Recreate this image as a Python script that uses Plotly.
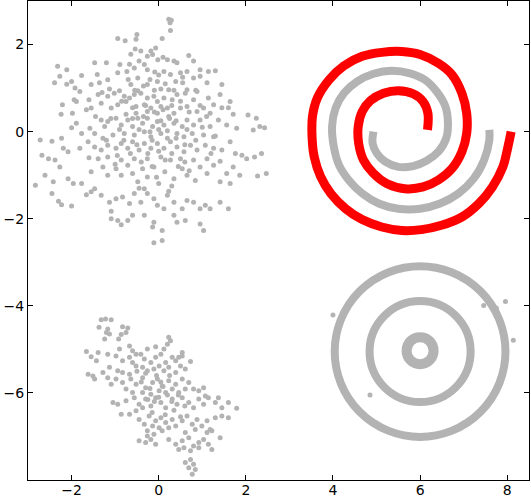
import plotly.graph_objects as go

# points (top-left gaussian blob)
blob_top = [
    (0.23, 2.58), (0.29, 2.56), (0.26, 2.5), (0.27, 2.32), (0.08, 2.14), (-0.5, 2.23), (-0.94, 2.14),
    (-0.77, 2.09), (-0.52, 2.12),
    (-0.54, 1.9), (-0.41, 1.85), (-0.64, 1.78), (-0.18, 1.85), (-0.07, 1.92), (-0.26, 1.73), (-0.14, 1.77),
    (0.1, 1.71), (0.2, 1.65), (0.35, 1.62), (0.42, 1.58), (0.69, 1.75), (0.8, 1.62), (-0.67, 1.55),
    (-0.89, 1.54), (-1.47, 1.58), (-1.2, 1.58), (-2.32, 1.5), (-2.11, 1.42), (-0.45, 1.62), (-0.33, 1.54),
    (-0.02, 1.65),
    (-2.27, 1.27), (-2.39, 1.12), (-2.11, 1.09), (-2.0, 1.15), (-1.77, 1.29), (-1.41, 1.31), (-1.17, 1.19),
    (-0.94, 1.35), (-0.73, 1.38), (-0.56, 1.46), (-0.48, 1.23), (-0.26, 1.42), (-0.09, 1.37), (0.12, 1.38),
    (0.27, 1.31), (0.5, 1.35), (0.65, 1.38), (0.95, 1.42), (1.14, 1.38), (1.3, 1.4), (0.8, 1.23),
    (0.95, 1.27), (1.11, 1.12), (1.45, 1.08), (0.39, 1.15), (0.55, 1.12), (-0.03, 1.15), (-0.26, 1.08),
    (-0.64, 1.08), (-1.36, 1.12), (-1.55, 1.08), (-1.92, 1.0), (-1.81, 0.92), (-1.13, 0.98), (-0.9, 0.94),
    (0.05, 0.98), (0.23, 0.96), (0.65, 0.96), (0.88, 0.92), (-0.48, 0.94),
    (-1.94, 0.73), (-1.89, 0.69), (-2.21, 0.62), (-1.6, 0.73), (-1.39, 0.85), (-1.17, 0.81), (-1.02, 0.88),
    (-0.79, 0.81), (-0.67, 0.77), (-0.56, 0.85), (-0.41, 0.88), (-0.26, 0.77), (-0.11, 0.81), (-0.03, 0.69),
    (0.12, 0.77), (0.31, 0.73), (0.42, 0.85), (0.61, 0.88), (0.8, 0.73), (1.14, 0.77), (1.41, 0.85),
    (1.64, 0.69), (1.6, 0.55), (1.26, 0.62), (1.03, 0.54), (0.65, 0.58), (0.5, 0.54), (0.2, 0.54),
    (0.05, 0.58), (-0.18, 0.54), (-0.33, 0.62), (-0.52, 0.58), (-0.75, 0.69), (-0.94, 0.62), (-1.09, 0.54),
    (-1.32, 0.65), (-1.55, 0.54), (-1.66, 0.5), (-1.98, 0.42), (-2.24, 0.4), (-0.52, 0.42), (-0.26, 0.46),
    (-0.03, 0.42), (0.35, 0.42), (0.88, 0.46), (1.18, 0.42), (1.71, 0.4), (2.05, 0.38), (2.24, 0.31),
    (-2.0, 0.09), (-1.89, 0.19), (-1.77, -0.04), (-1.58, 0.08), (-1.47, -0.04), (-1.32, 0.27), (-1.17, 0.23),
    (-1.24, 0.12), (-0.98, 0.31), (-0.86, 0.15), (-0.71, 0.27), (-0.6, 0.12), (-0.48, 0.31), (-0.37, 0.19),
    (-0.26, 0.31), (-0.14, 0.12), (-0.03, 0.23), (0.12, 0.15), (0.23, 0.35), (0.35, 0.19), (0.54, 0.12),
    (0.65, 0.27), (0.8, 0.15), (0.95, 0.27), (1.18, 0.12), (1.37, 0.27), (1.56, 0.15), (1.79, 0.08),
    (2.17, 0.04), (2.32, 0.12), (2.43, 0.09), (-0.79, -0.04), (-0.56, -0.08), (-0.33, 0.0), (-0.18, -0.12),
    (0.05, -0.04), (0.2, -0.15), (0.42, -0.04), (0.58, -0.12), (0.77, -0.04), (1.03, -0.08), (1.26, -0.12),
    (-1.05, -0.08), (-1.28, -0.15), (-2.72, -0.19), (-2.45, -0.22), (-2.23, -0.15),
    (-2.68, -0.54), (-2.53, -0.62), (-2.38, -0.65), (-2.19, -0.38), (-2.08, -0.46), (-1.81, -0.38),
    (-1.62, -0.23), (-1.47, -0.35), (-1.32, -0.42), (-1.17, -0.31), (-0.98, -0.38), (-0.86, -0.27),
    (-0.71, -0.38), (-0.6, -0.23), (-0.45, -0.42), (-0.33, -0.27), (-0.18, -0.38), (-0.03, -0.27),
    (0.12, -0.38), (0.27, -0.23), (0.42, -0.35), (0.58, -0.46), (0.73, -0.31), (0.88, -0.42), (1.07, -0.31),
    (1.26, -0.38), (1.45, -0.42), (1.64, -0.23), (1.76, -0.5), (1.91, -0.54), (2.02, -0.62), (2.2, -0.58),
    (2.36, -0.5), (-1.39, -0.62), (-1.17, -0.58), (-0.86, -0.65), (-0.56, -0.62), (-0.26, -0.62),
    (0.05, -0.58), (0.27, -0.65), (0.5, -0.62), (0.8, -0.65), (1.11, -0.62), (1.41, -0.68),
    (-2.83, -1.23), (-2.61, -1.0), (-2.42, -1.15), (-2.27, -0.81), (-2.08, -1.08), (-1.96, -1.19),
    (-1.77, -1.19), (-1.55, -0.92), (-1.47, -1.31), (-1.28, -0.81), (-1.17, -1.0), (-0.98, -0.85),
    (-0.86, -1.0), (-0.71, -0.77), (-0.6, -0.96), (-0.48, -1.15), (-0.37, -0.85), (-0.26, -1.04),
    (-0.11, -0.81), (0.0, -1.19), (0.14, -0.92), (0.35, -1.08), (0.54, -0.85), (0.65, -1.0), (0.84, -1.12),
    (0.95, -0.81), (1.11, -0.96), (1.26, -0.77), (1.41, -1.15), (1.56, -0.96), (1.71, -0.81), (1.86, -1.0),
    (2.27, -1.02), (2.47, -0.96), (1.64, -1.19), (-1.55, -1.38), (-1.66, -1.45),
    (-2.45, -1.42), (-2.3, -1.6), (-2.23, -1.68), (-2.0, -1.71), (-1.32, -1.46), (-1.13, -1.62),
    (-0.98, -1.54), (-1.09, -1.83), (-0.83, -1.5), (-0.67, -1.65), (-0.56, -1.42), (-0.41, -1.62),
    (-0.26, -1.42), (-0.11, -1.54), (-0.03, -1.69), (0.12, -1.77), (0.2, -1.46), (0.35, -1.62),
    (0.54, -1.77), (0.65, -1.58), (0.8, -1.62), (0.95, -1.77), (1.07, -1.69), (1.18, -1.77), (1.41, -1.62),
    (1.6, -1.77), (0.23, -1.37), (-0.33, -1.31),
    (-1.09, -2.0), (-0.94, -2.04), (-0.71, -2.04), (-0.86, -2.14), (-0.33, -1.92), (-0.11, -2.08),
    (-0.14, -2.19), (0.08, -2.27), (0.42, -2.08), (0.61, -2.04), (0.95, -2.12), (1.03, -2.27),
    (-0.11, -2.55), (0.08, -2.5), (0.35, -1.92), (-0.6, -1.92),
    (-0.9, 0.05), (-0.75, 0.4), (-0.6, 0.55), (-0.45, 0.05), (-0.3, 0.6), (-0.2, 0.0), (-0.1, 0.45),
    (0.0, 0.05), (0.1, 0.5), (0.2, 0.02), (0.3, 0.6), (0.4, 0.25), (0.5, 0.7), (0.6, -0.3), (0.7, 0.45),
    (0.85, -0.2), (0.95, 0.6), (-0.95, -0.55), (-0.8, -0.2), (-0.65, -0.5), (-0.5, -0.3), (-0.4, -0.7),
    (-0.25, -0.5), (-0.15, -0.8), (0.0, -0.45), (0.15, -0.65), (0.3, -0.5), (0.45, -0.8), (0.6, -0.7),
    (0.7, -0.9), (-0.55, 0.95), (-0.35, 1.05), (-0.1, 0.95), (0.15, 1.1), (0.35, 0.95), (-0.7, 1.2),
    (0.0, 1.3), (-0.2, 1.2), (-1.1, 0.3), (-1.2, -0.2), (-1.0, -0.75), (-1.3, 0.9), (-0.85, 0.7),
    (0.85, 0.95), (1.0, 0.1), (1.2, -0.5), (1.1, 0.35), (-0.05, -1.05), (0.3, -1.25), (-0.45, -1.3),
    (0.55, 1.25), (0.65, 0.05), (-0.35, 0.35), (0.25, 0.3), (-0.6, 0.3), (0.05, 0.25), (-0.15, -0.2),
    (0.4, -0.15), (-1.45, 0.35), (-1.6, -0.6), (1.45, 0.55), (1.3, -0.1),
]

# bottom-left correlated blob
blob_bottom = [
    (-1.32, -4.32), (-1.22, -4.30), (-1.09, -4.32), (-1.37, -4.49), (-1.17, -4.53), (-1.13, -4.65),
    (-1.24, -4.76), (-1.2, -4.61), (-0.83, -4.48), (-0.71, -4.51), (-0.75, -4.61), (-0.86, -4.66),
    (-0.92, -4.76),
    (0.23, -4.72), (0.27, -4.80), (0.20, -4.88), (-0.07, -4.94), (-0.26, -4.99), (-0.67, -4.92),
    (-0.90, -4.99), (-0.60, -5.03), (0.12, -4.99), (0.54, -5.07), (0.46, -5.18), (-0.41, -5.11),
    (-1.66, -5.05), (-1.55, -5.17), (-1.39, -5.07), (-1.43, -5.26), (-1.17, -5.11), (-0.98, -5.15),
    (-0.83, -5.26), (-0.67, -5.18), (-0.52, -5.11), (-0.33, -5.22), (-0.18, -5.30), (-0.07, -5.18),
    (0.05, -5.11), (0.16, -5.30), (0.31, -5.18), (0.39, -5.26), (0.54, -5.15), (0.73, -5.28),
    (-0.52, -5.38), (-0.37, -5.41), (-0.26, -5.49), (-0.11, -5.45), (0.01, -5.38), (0.12, -5.49),
    (0.23, -5.41), (0.39, -5.53), (0.50, -5.38), (0.61, -5.45), (-1.62, -5.57), (-1.51, -5.61),
    (-1.47, -5.68), (-1.28, -5.53), (-1.17, -5.65), (-1.13, -5.41), (-0.94, -5.49), (-0.83, -5.53),
    (-0.67, -5.57),
    (-1.09, -5.80), (-0.98, -5.68), (-0.83, -5.76), (-0.64, -5.68), (-0.52, -5.80), (-0.37, -5.65),
    (-0.30, -5.88), (-0.14, -5.76), (-0.03, -5.68), (0.08, -5.84), (0.23, -5.72), (0.39, -5.80),
    (0.54, -5.68), (0.69, -5.76), (0.80, -5.91), (0.92, -5.95), (1.03, -5.88), (-0.37, -5.99),
    (-0.18, -6.03), (0.01, -5.95), (0.16, -5.99), (0.31, -5.91), (0.46, -5.99), (0.61, -5.91),
    (-0.75, -5.91), (-0.60, -5.99), (1.07, -6.07),
    (-1.05, -6.22), (-0.94, -6.26), (-0.75, -6.18), (-0.56, -6.11), (-0.45, -6.26), (-0.30, -6.14),
    (-0.18, -6.30), (-0.07, -6.11), (0.05, -6.22), (0.16, -6.34), (0.31, -6.14), (0.42, -6.26),
    (0.54, -6.11), (0.69, -6.22), (0.80, -6.34), (0.92, -6.14), (1.03, -6.26), (1.14, -6.11),
    (1.30, -6.22), (1.37, -6.11), (1.45, -6.34), (1.60, -6.22), (1.79, -6.35), (-0.86, -6.49),
    (-0.67, -6.49), (-0.52, -6.41), (-0.37, -6.34),
    (-0.45, -6.61), (-0.33, -6.72), (-0.22, -6.53), (-0.07, -6.64), (0.05, -6.57), (0.16, -6.68),
    (0.31, -6.61), (0.39, -6.76), (0.54, -6.64), (0.65, -6.53), (0.77, -6.72), (0.88, -6.61),
    (0.99, -6.76), (1.11, -6.64), (1.22, -6.87), (1.30, -6.57), (1.45, -6.53), (1.60, -6.57),
    (-0.26, -6.87), (-0.11, -6.95), (0.08, -6.87), (0.23, -6.80), (0.61, -6.91), (0.84, -6.84),
    (1.11, -6.91), (1.18, -6.84), (-0.14, -6.76), (0.01, -6.80),
    (-0.45, -7.10), (-0.30, -7.14), (-0.18, -7.07), (-0.07, -7.18), (0.23, -7.07), (0.39, -7.18),
    (0.54, -7.10), (0.69, -7.03), (0.80, -7.22), (0.92, -7.14), (1.03, -7.07), (1.14, -7.18),
    (1.41, -7.03), (0.46, -7.30), (0.58, -7.26), (0.73, -7.33), (0.92, -7.26), (1.22, -7.30),
    (-0.26, -6.99),
    (0.61, -7.60), (0.73, -7.53), (0.80, -7.64), (0.69, -7.72), (0.77, -7.87), (0.84, -7.76),
    (-0.2, -5.9), (0.0, -6.1), (0.1, -5.85), (-0.1, -6.2), (0.2, -6.05), (-0.3, -5.55), (0.35, -6.4),
    (-0.05, -5.6), (0.15, -6.5), (-0.4, -5.75), (0.45, -6.05), (0.25, -5.6), (-0.15, -6.45), (0.6, -6.3),
    (-0.5, -5.5), (0.05, -5.75), (0.3, -6.2), (-0.25, -6.15), (0.5, -6.55), (-0.6, -5.3),
]

# spiral centre lines
red_spiral = [
    (6.17, 0.04), (6.18, 0.42), (6.07, 0.69), (5.84, 0.87), (5.50, 0.94), (5.16, 0.88), (4.86, 0.71),
    (4.67, 0.46), (4.58, 0.12), (4.59, -0.27), (4.70, -0.65), (4.93, -0.96), (5.23, -1.19), (5.65, -1.31),
    (6.07, -1.27), (6.42, -1.11), (6.73, -0.85), (6.96, -0.46), (7.07, -0.04), (7.07, 0.42), (6.96, 0.88),
    (6.73, 1.31), (6.42, 1.57), (6.0, 1.77), (5.58, 1.84), (5.12, 1.82), (4.67, 1.73), (4.25, 1.51),
    (3.91, 1.19), (3.64, 0.77), (3.53, 0.35), (3.52, -0.12), (3.57, -0.58), (3.72, -1.04), (3.95, -1.42),
    (4.29, -1.77), (4.67, -2.02), (5.12, -2.19), (5.58, -2.27), (6.03, -2.25), (6.49, -2.15), (6.96, -1.96),
    (7.35, -1.65), (7.66, -1.27), (7.90, -0.81), (8.01, -0.38), (8.09, 0.0),
]
gray_spiral = [
    (4.93, 0.0), (4.91, -0.27), (5.01, -0.50), (5.20, -0.69), (5.50, -0.81), (5.84, -0.79), (6.15, -0.67),
    (6.42, -0.46), (6.60, -0.15), (6.64, 0.19), (6.58, 0.58), (6.38, 0.92), (6.11, 1.19), (5.77, 1.34),
    (5.35, 1.40), (4.93, 1.33), (4.55, 1.15), (4.25, 0.88), (4.06, 0.54), (3.98, 0.12), (4.02, -0.35),
    (4.14, -0.77), (4.36, -1.11), (4.67, -1.42), (5.05, -1.65), (5.50, -1.77), (6.0, -1.77), (6.46, -1.65),
    (6.88, -1.42), (7.23, -1.08), (7.47, -0.65), (7.59, -0.19), (7.59, 0.04),
]

# concentric rings
ring_cx = [6.0, 6.0, 6.0]
ring_cy = [-5.03, -5.05, -5.05]
ring_r = [0.31, 1.16, 1.96]
ring_strays = [(7.96, -3.9), (7.46, -3.99), (4.0, -4.21), (8.14, -4.79), (7.75, -4.05), (4.85, -6.05)]

GRAY = "#b3b3b3"
RED = "#ff0000"

fig = go.Figure()

for pts in (blob_top, blob_bottom, ring_strays):
    fig.add_trace(go.Scatter(
        x=[p[0] for p in pts], y=[p[1] for p in pts], mode="markers",
        marker=dict(color=GRAY, size=5, line=dict(width=0)), showlegend=False))

fig.add_trace(go.Scatter(
    x=[p[0] for p in gray_spiral], y=[p[1] for p in gray_spiral], mode="lines",
    line=dict(color=GRAY, width=8, shape="spline"), showlegend=False))
fig.add_trace(go.Scatter(
    x=[p[0] for p in red_spiral], y=[p[1] for p in red_spiral], mode="lines",
    line=dict(color=RED, width=9, shape="spline"), showlegend=False))

for cx, cy, r, w in zip(ring_cx, ring_cy, ring_r, [10, 8, 8]):
    fig.add_shape(type="circle", xref="x", yref="y",
                  x0=cx - r, x1=cx + r, y0=cy - r, y1=cy + r,
                  line=dict(color=GRAY, width=w))

axis_style = dict(showgrid=False, zeroline=False, showline=True, linecolor="black", linewidth=1,
                  mirror="ticks", ticks="inside", ticklen=5, tickcolor="black", automargin=False,
                  tickfont=dict(family="DejaVu Sans", size=14, color="black"))

fig.update_xaxes(range=[-3, 8.5], tickvals=[-2, 0, 2, 4, 6, 8], ticklabelstandoff=-3, **axis_style)
fig.update_yaxes(range=[-8, 3], tickvals=[-6, -4, -2, 0, 2], **axis_style)

fig.update_layout(
    width=531, height=497,
    margin=dict(l=28, r=2, t=1, b=17, pad=0),
    plot_bgcolor="white", paper_bgcolor="white",
)

# the page's default body margin would shift the figure; remove it
fig.write_html("out.html", config={"displayModeBar": False},
               post_script="document.body.style.margin='0px';")
